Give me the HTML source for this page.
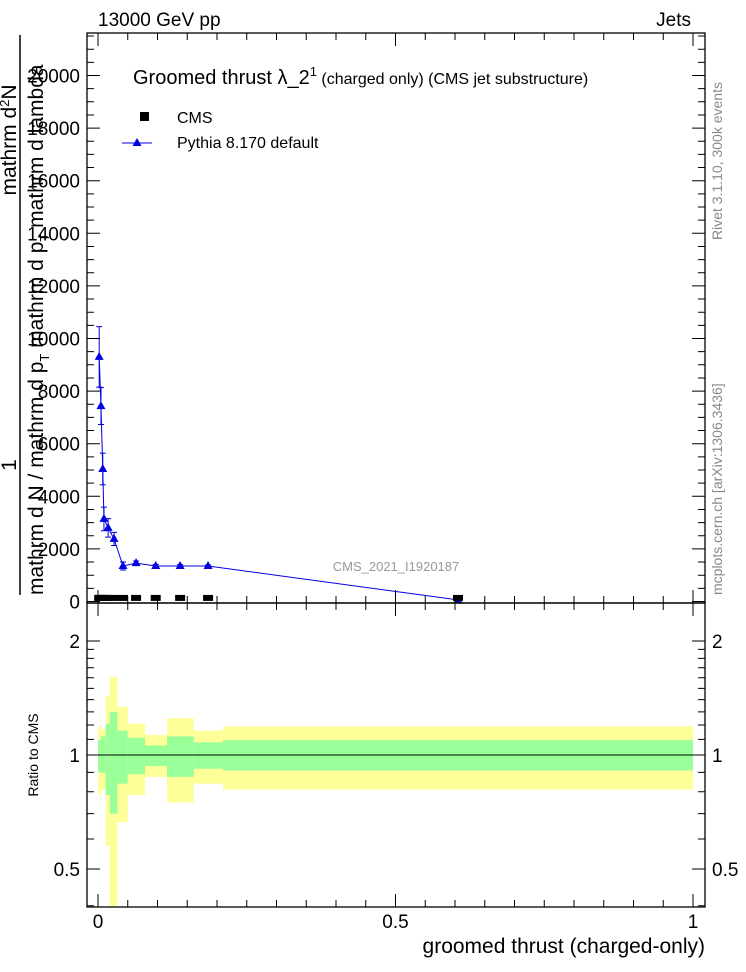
<!DOCTYPE html>
<html><head><meta charset="utf-8"><style>
html,body{margin:0;padding:0;background:#fff;}
svg{display:block;font-family:"Liberation Sans",sans-serif;}
</style></head><body>
<svg id="chart" width="746" height="972" viewBox="0 0 746 972" xmlns="http://www.w3.org/2000/svg">
<g id="ratio-bands"></g>
<g id="main-marks"></g>
<g id="axes"></g>
<rect x="87" y="33" width="618" height="570" fill="none" stroke="#000" stroke-width="1.3"/>
<rect x="87" y="603" width="618" height="304" fill="none" stroke="#000" stroke-width="1.3"/>
<text x="98" y="26" font-size="19">13000 GeV pp</text>
<text x="691" y="26" font-size="19" text-anchor="end">Jets</text>
<text x="133" y="84" font-size="20">Groomed thrust  λ_2<tspan dy="-8" font-size="13">1</tspan><tspan dy="8" font-size="16"> (charged only) (CMS jet substructure)</tspan></text>
<rect x="140" y="112" width="9" height="9" fill="#000"/>
<text x="177" y="123" font-size="16">CMS</text>
<line x1="122" y1="143" x2="152" y2="143" stroke="#0000e0" stroke-width="1"/>
<polygon points="137,138 141.5,146 132.5,146" fill="#0000e0"/>
<text x="177" y="148" font-size="16">Pythia 8.170 default</text>
<text x="396" y="571" font-size="13" fill="#999" text-anchor="middle">CMS_2021_I1920187</text>
<text transform="translate(722,240) rotate(-90)" font-size="14" fill="#888">Rivet 3.1.10,  300k events</text>
<text transform="translate(722,595) rotate(-90)" font-size="14" fill="#888">mcplots.cern.ch [arXiv:1306.3436]</text>
<line x1="20" y1="35" x2="20" y2="595" stroke="#000" stroke-width="1.5"/>
<text transform="translate(16,465) rotate(-90)" font-size="21" text-anchor="middle">1</text>
<text transform="translate(16,140) rotate(-90)" font-size="21" text-anchor="middle">mathrm d<tspan dy="-7" font-size="13">2</tspan><tspan dy="7">N</tspan></text>
<text transform="translate(43,595) rotate(-90)" font-size="21">mathrm d N / mathrm d p<tspan font-size="13" dy="6">T</tspan><tspan dy="-6">  mathrm d p</tspan><tspan font-size="13" dy="6">T</tspan><tspan dy="-6"> mathrm d lambda</tspan></text>
<text transform="translate(38,755) rotate(-90)" font-size="14" text-anchor="middle">Ratio to CMS</text>
<text x="705" y="953" font-size="21" text-anchor="end">groomed thrust (charged-only)</text>
</svg>
<script>
const xEdges=[0,0.005,0.013,0.02,0.033,0.05,0.079,0.116,0.161,0.21,1.0];
const yellowHi=[1.19,1.17,1.43,1.61,1.34,1.21,1.13,1.25,1.16,1.19];
const yellowLo=[0.784,0.81,0.575,0.4,0.665,0.784,0.875,0.75,0.84,0.81];
const greenHi=[1.095,1.12,1.21,1.30,1.16,1.11,1.06,1.12,1.08,1.095];
const greenLo=[0.90,0.896,0.784,0.70,0.84,0.89,0.935,0.875,0.92,0.91];
const pyX=[0.002,0.005,0.008,0.01,0.017,0.027,0.042,0.064,0.097,0.138,0.185,0.605];
const pyY=[9300,7430,5040,3140,2800,2380,1350,1460,1350,1350,1350,60];
const pyErr=[1150,700,600,450,350,250,150,80,60,50,40,20];
const cmsX=[0.002,0.005,0.008,0.01,0.017,0.027,0.042,0.064,0.097,0.138,0.185,0.605];
const cmsY=[60,60,60,60,60,60,60,60,60,60,60,60];
const yTicks=[0,2000,4000,6000,8000,10000,12000,14000,16000,18000,20000];
const xTicks=[0,0.5,1];
const xTickLabels=["0","0.5","1"];
const rTicks=[0.5,1,2];
const rTickLabels=["0.5","1","2"];
const NS="http://www.w3.org/2000/svg";
const X=v=>98+595*v;
const Y=v=>601.5-v*0.0263;
const R=r=>Math.max(603,Math.min(907,755-114*Math.log2(r)));
function mk(tag,attrs,parent){const e=document.createElementNS(NS,tag);for(const k in attrs)e.setAttribute(k,attrs[k]);parent.appendChild(e);return e;}
const bands=document.getElementById('ratio-bands');
const marks=document.getElementById('main-marks');
const axes=document.getElementById('axes');
for(let i=0;i<xEdges.length-1;i++){
 const x1=X(xEdges[i]),x2=X(xEdges[i+1]);
 const y=mk('rect',{x:x1,y:R(yellowHi[i]),width:x2-x1,height:R(yellowLo[i])-R(yellowHi[i]),fill:'#ffff99'},bands);
 
 
 const g=mk('rect',{x:x1,y:R(greenHi[i]),width:x2-x1,height:R(greenLo[i])-R(greenHi[i]),fill:'#99ff99'},bands);
 
 
}
const rl=mk('line',{x1:87,x2:705,y1:R(1),y2:R(1),stroke:'#000','stroke-width':1},bands);


const pl=mk('polyline',{points:pyX.map((x,i)=>X(x)+','+Y(pyY[i])).join(' '),fill:'none',stroke:'#0000e0','stroke-width':1},marks);


pyX.forEach((x,i)=>{
 const cx=X(x),cy=Y(pyY[i]);
 const e=mk('path',{d:`M${cx},${Y(pyY[i]+pyErr[i])}V${Y(pyY[i]-pyErr[i])}M${cx-3},${Y(pyY[i]+pyErr[i])}h6M${cx-3},${Y(pyY[i]-pyErr[i])}h6`,stroke:'#0000e0','stroke-width':1,fill:'none'},marks);
 
 
 const t=mk('polygon',{points:`${cx},${cy-5} ${cx+4.5},${cy+3} ${cx-4.5},${cy+3}`,fill:'#0000e0'},marks);
 
 
});
cmsX.forEach((x,i)=>{
 const s=mk('rect',{x:X(x)-5,y:Y(cmsY[i])-5,width:10,height:6,fill:'#000'},marks);
 
 
});
for(let v=0;v<=21500;v+=500){
 const maj=v%2000===0,y=Y(v);
 const t=mk('path',{d:`M87,${y}h${maj?13:7}M705,${y}h-${maj?13:7}`,stroke:'#000','stroke-width':1},axes);
 
 
}
yTicks.forEach(v=>{
 const l=mk('text',{x:80,y:Y(v)+7,'font-size':19,'text-anchor':'end'},axes);
 l.textContent=String(v);
 
 
});
for(let k=0;k<=20;k++){
 const v=k*0.05,x=X(v),maj=k%10===0;
 const t=mk('path',{d:`M${x},603v-${maj?13:7}M${x},33v${maj?13:7}M${x},907v-${maj?13:7}M${x},603v${maj?13:7}`,stroke:'#000','stroke-width':1},axes);
 
 
}
xTicks.forEach((v,i)=>{
 const l=mk('text',{x:X(v),y:928,'font-size':19,'text-anchor':'middle'},axes);
 l.textContent=xTickLabels[i];
 
 
});
const rMinor=[0.4,0.5,0.6,0.7,0.8,0.9,1,1.1,1.2,1.3,1.4,1.5,1.6,1.7,1.8,1.9,2];
rMinor.forEach(r=>{
 const maj=[0.5,1,2].includes(r),y=R(r);
 const t=mk('path',{d:`M87,${y}h${maj?13:7}M705,${y}h-${maj?13:7}`,stroke:'#000','stroke-width':1},axes);
 
 
});
rTicks.forEach((r,i)=>{
 const y=R(r)+7;
 const l=mk('text',{x:80,y:y,'font-size':19,'text-anchor':'end'},axes);
 l.textContent=rTickLabels[i];
 
 
 const l2=mk('text',{x:712,y:y,'font-size':19},axes);
 l2.textContent=rTickLabels[i];
 
 
});
</script>
</body></html>
